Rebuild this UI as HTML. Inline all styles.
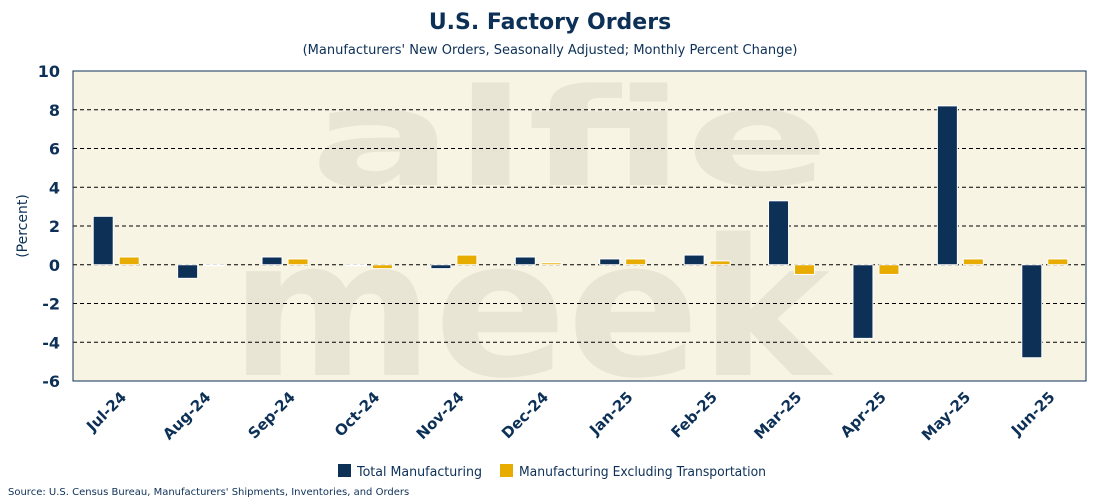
<!DOCTYPE html>
<html><head><meta charset="utf-8"><style>
body{margin:0;background:#fff;width:1100px;height:500px;overflow:hidden;font-family:"DejaVu Sans","Liberation Sans",sans-serif}
</style></head><body>
<svg id="c" width="1100" height="500" xmlns="http://www.w3.org/2000/svg">
<text x="550" y="29" text-anchor="middle" font-size="22" font-weight="bold" fill="#0d3057">U.S. Factory Orders</text>
<text x="550" y="54" text-anchor="middle" font-size="13" fill="#0d3057">(Manufacturers' New Orders, Seasonally Adjusted; Monthly Percent Change)</text>
<rect x="73" y="71" width="1013" height="310" fill="#f7f4e4"/>
<g font-weight="bold" fill="#e9e5d5">
<text x="570" y="185" text-anchor="middle" font-size="135" textLength="520" lengthAdjust="spacingAndGlyphs">alfie</text>
<text x="530" y="375" text-anchor="middle" font-size="190" textLength="600" lengthAdjust="spacingAndGlyphs">meek</text>
</g>
<g id="grid"></g><g id="bars"></g><g id="axes"></g>
<rect x="73" y="71" width="1013" height="310" fill="none" stroke="#0d3057" stroke-width="1"/>
<text transform="translate(27,226) rotate(-90)" text-anchor="middle" font-size="14" fill="#0d3057">(Percent)</text>
<g>
<rect x="338" y="464" width="13" height="13" fill="#0d3057"/>
<text x="357" y="476" font-size="13" fill="#0d3057" textLength="125" lengthAdjust="spacingAndGlyphs">Total Manufacturing</text>
<rect x="500" y="464" width="13" height="13" fill="#e8ab00"/>
<text x="519" y="476" font-size="13" fill="#0d3057" textLength="247" lengthAdjust="spacingAndGlyphs">Manufacturing Excluding Transportation</text>
</g>
<text x="8" y="495" font-size="10" fill="#0d3057">Source: U.S. Census Bureau, Manufacturers' Shipments, Inventories, and Orders</text>
</svg>
<script>
const categories=["Jul-24","Aug-24","Sep-24","Oct-24","Nov-24","Dec-24","Jan-25","Feb-25","Mar-25","Apr-25","May-25","Jun-25"];
const totalMfg=[2.5,-0.7,0.4,-0.05,-0.2,0.4,0.3,0.5,3.3,-3.8,8.2,-4.8];
const exTransport=[0.4,0.0,0.3,-0.2,0.5,0.1,0.3,0.2,-0.5,-0.5,0.3,0.3];
const yTicks=[-6,-4,-2,0,2,4,6,8,10];
const NS="http://www.w3.org/2000/svg";
const L=73,W=1013,T=71,H=310,ymin=-6,ymax=10;
const y=v=>T+(ymax-v)/(ymax-ymin)*H;
const bw=W/categories.length;
const x=i=>L+bw*i;
function mk(t,a,p){const e=document.createElementNS(NS,t);for(const k in a)e.setAttribute(k,a[k]);p.appendChild(e);return e;}
const grid=document.getElementById('grid'),bars=document.getElementById('bars'),axes=document.getElementById('axes');
yTicks.forEach(v=>{
  if(v!==ymax&&v!==ymin){const g=mk('line',{x1:L,x2:L+W,y1:y(v),y2:y(v),stroke:'#000','stroke-dasharray':'4,3','stroke-width':1},grid);
  
  }
  const t=mk('text',{x:L-13,y:y(v)+6,'text-anchor':'end','font-size':16,'font-weight':'bold',fill:'#0d3057'},axes);
  t.textContent=v;
  
  
});
categories.forEach((c,i)=>{
  const cx=x(i)+bw/2;
  [[totalMfg[i],'#0d3057',cx-22],[exTransport[i],'#e8ab00',cx+4]].forEach(([v,col,bx],k)=>{
    const y0=y(Math.max(v,0)),h=Math.max(Math.abs(y(v)-y(0)),1);
    const r=mk('rect',{x:bx,y:y0,width:20,height:h,fill:col,stroke:'#fff','stroke-width':1},bars);
    
    
  });
  const t=mk('text',{x:cx+12,y:398,'text-anchor':'end','font-size':15,'font-weight':'bold',fill:'#0d3057',transform:`rotate(-45 ${cx+12} 398)`},axes);
  t.textContent=c;
  
  
});
</script>
</body></html>
